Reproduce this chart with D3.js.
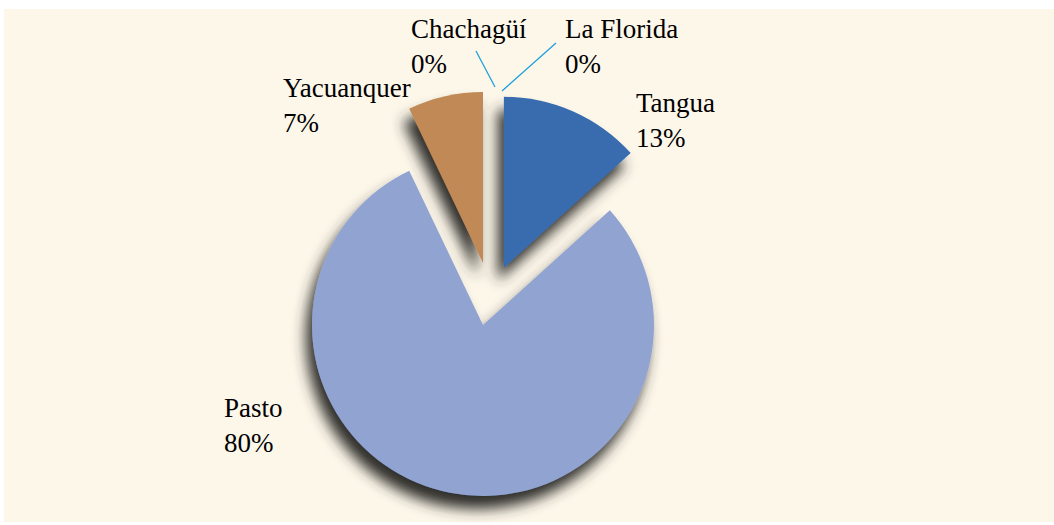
<!DOCTYPE html>
<html>
<head>
<meta charset="utf-8">
<script src="https://cdn.jsdelivr.net/npm/d3@7"></script>
<style>
  body { margin: 0; background: #fff; }
  svg text { font-family: "Times New Roman", Times, "Liberation Serif", "DejaVu Serif", "Noto Serif", serif; }
</style>
</head>
<body>
<script>
// data
var municipios = ["Tangua", "Pasto", "Yacuanquer", "Chachagüí", "La Florida"];
var valores = [13.3, 79.6, 7.1, 0, 0];
var colores = ["#386caf", "#91a3d0", "#c08956", "#7fa6d6", "#d99a5e"];

// layout
var width = 1054, height = 525;
var cx = 483, cy = 325, radius = 171;
// explode: distance and direction (degrees, clockwise from 12 o'clock)
var explode = [[61, 20], [0, 0], [62, 0], [0, 0], [0, 0]];
// label positions relative to pie centre, leader lines for the empty slices
var label_pos = [[153, -213], [-259, 92], [-200, -228], [-72, -287], [82, -287]];
var leaders = [null, null, null, [[-7, -274], [12, -238]], [[73, -282], [19, -234]]];

var svg = d3.select("body").append("svg")
    .attr("width", width)
    .attr("height", height);

svg.append("rect")
    .attr("x", 4).attr("y", 9)
    .attr("width", width - 4).attr("height", 513)
    .attr("fill", "#fdf7ea");

var defs = svg.append("defs");
var f = defs.append("filter").attr("id", "shadow")
    .attr("x", "-20%").attr("y", "-20%").attr("width", "140%").attr("height", "140%");
f.append("feGaussianBlur").attr("in", "SourceAlpha").attr("stdDeviation", 7).attr("result", "b");
f.append("feOffset").attr("in", "b").attr("dx", -6).attr("dy", 13).attr("result", "o");
f.append("feFlood").attr("flood-color", "#2f2e2a").attr("flood-opacity", 1);
f.append("feComposite").attr("in2", "o").attr("operator", "in").attr("result", "s");
var m = f.append("feMerge");
m.append("feMergeNode").attr("in", "s");
m.append("feMergeNode").attr("in", "SourceGraphic");

var pie = d3.pie().sort(null).value(function(d) { return d; });
var arcs = pie(valores);
var arc = d3.arc().innerRadius(0).outerRadius(radius);
var total = d3.sum(valores);
var fmt = d3.format(".0%");

var g = svg.append("g")
    .attr("transform", "translate(" + cx + "," + cy + ")");

g.append("g")
    .attr("filter", "url(#shadow)")
  .selectAll("path")
    .data(arcs.filter(function(d) { return d.value > 0; }))
  .enter().append("path")
    .attr("d", arc)
    .attr("fill", function(d) { return colores[d.index]; })
    .attr("transform", function(d) {
        var e = explode[d.index], a = e[1] * Math.PI / 180;
        return "translate(" + (e[0] * Math.sin(a)) + "," + (-e[0] * Math.cos(a)) + ")";
    });

g.selectAll("line.leader")
    .data(arcs.filter(function(d) { return leaders[d.index]; }))
  .enter().append("line")
    .attr("class", "leader")
    .attr("x1", function(d) { return leaders[d.index][0][0]; })
    .attr("y1", function(d) { return leaders[d.index][0][1]; })
    .attr("x2", function(d) { return leaders[d.index][1][0]; })
    .attr("y2", function(d) { return leaders[d.index][1][1]; })
    .attr("stroke", "#1ea0dc")
    .attr("stroke-width", 1.3);

var lab = g.selectAll("text.lab")
    .data(arcs)
  .enter().append("text")
    .attr("class", "lab")
    .attr("font-size", 27)
    .attr("fill", "#000")
    .attr("transform", function(d) {
        return "translate(" + label_pos[d.index][0] + "," + label_pos[d.index][1] + ")";
    });
lab.append("tspan").attr("x", 0).attr("y", 0)
    .text(function(d) { return municipios[d.index]; });
lab.append("tspan").attr("x", 0).attr("y", 35)
    .text(function(d) { return fmt(d.value / total); });
</script>
</body>
</html>
